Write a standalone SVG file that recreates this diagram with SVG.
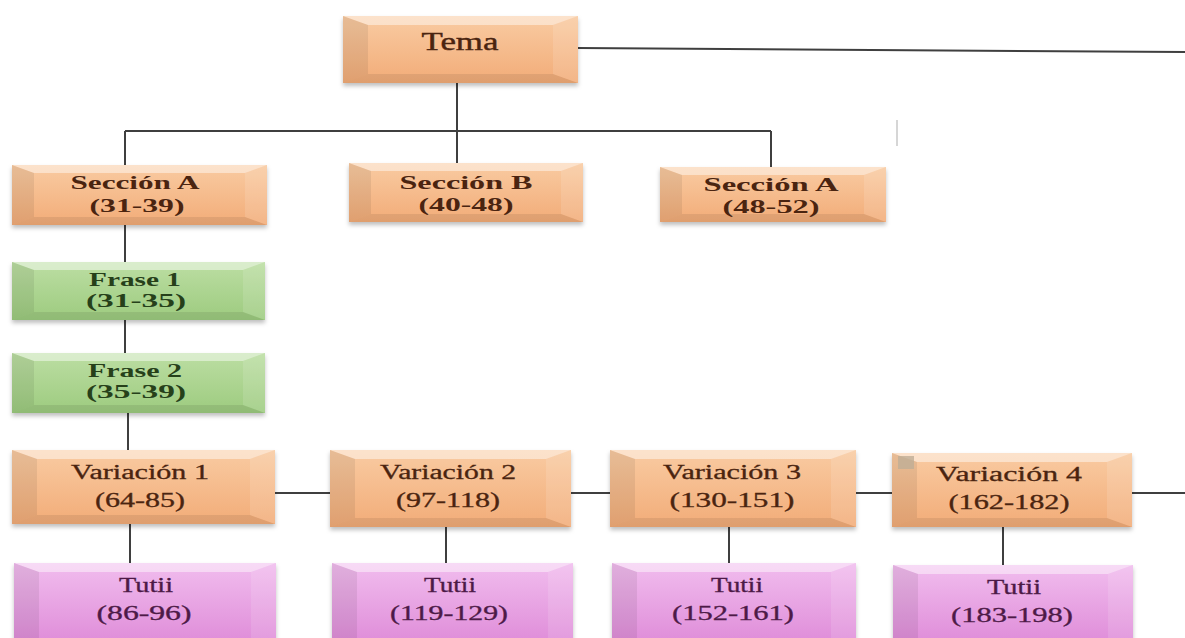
<svg xmlns="http://www.w3.org/2000/svg" width="1185" height="638" viewBox="0 0 1185 638">
<defs>
<linearGradient id="gO" x1="0" y1="0" x2="0" y2="1"><stop offset="0" stop-color="#F9CBA2"/><stop offset="1" stop-color="#F2AC78"/></linearGradient>
<linearGradient id="gG" x1="0" y1="0" x2="0" y2="1"><stop offset="0" stop-color="#BCDEA3"/><stop offset="1" stop-color="#9DCB7F"/></linearGradient>
<linearGradient id="gP" x1="0" y1="0" x2="0" y2="1"><stop offset="0" stop-color="#F1BDEE"/><stop offset="1" stop-color="#E08FDA"/></linearGradient>
<filter id="sh" x="-5%" y="-10%" width="110%" height="130%"><feDropShadow dx="0" dy="3" stdDeviation="2" flood-color="#000" flood-opacity="0.25"/></filter>
</defs>
<style>
.o{fill:url(#gO);filter:url(#sh)}
.g{fill:url(#gG);filter:url(#sh)}
.p{fill:url(#gP);filter:url(#sh)}
.bt{fill:#fff;opacity:0.45}
.bb{fill:#000;opacity:0.08}
.bl{fill:#000;opacity:0.07}
.br{fill:#fff;opacity:0.12}
.c{stroke:#3f3f3f;stroke-width:2;fill:none}
text{font-family:"Liberation Serif","Times New Roman",serif;text-anchor:middle}
.to{fill:#4a2410;stroke:#4a2410}
.tg{fill:#26401a;stroke:#26401a}
.tp{fill:#4d1a47;stroke:#4d1a47}
.b{font-weight:bold;font-size:18px;stroke-width:0}
.r{font-size:20px;stroke-width:0.3}
.t{font-size:26px;stroke-width:0.4}
</style>
<rect width="1185" height="638" fill="#fff"/>
<g id="connectors">
<path class="c" d="M578 48 L1185 52"/>
<path class="c" d="M457 83 V131 M125 131 H771 M125 131 V165 M457 131 V163 M771 131 V167"/>
<path class="c" d="M125 225 V262 M125 320 V353 M128 413 V450"/>
<path class="c" d="M275 493 H330 M571 493 H610 M856 493 H892 M1132 493 H1185"/>
<path class="c" d="M130 524 V563 M446 527 V563 M729 527 V563 M1003 527 V565"/>
<path d="M897 120 V146" stroke="#c8c8c8" stroke-width="1.5"/>
</g>
<g id="tema">
<rect class="o" x="343" y="16" width="235" height="67"/>
<polygon class="bt" points="343,16 578,16 553,25 368,25"/>
<polygon class="bb" points="343,83 578,83 553,74 368,74"/>
<polygon class="bl" points="343,16 368,25 368,74 343,83"/>
<polygon class="br" points="578,16 553,25 553,74 578,83"/>
<text class="to t" x="460" y="50" textLength="77" lengthAdjust="spacingAndGlyphs">Tema</text>
</g>
<g id="seccionA1">
<rect class="o" x="12" y="165" width="255" height="60"/>
<polygon class="bt" points="12,165 267,165 245,173 34,173"/>
<polygon class="bb" points="12,225 267,225 245,217 34,217"/>
<polygon class="bl" points="12,165 34,173 34,217 12,225"/>
<polygon class="br" points="267,165 245,173 245,217 267,225"/>
<text class="to b" x="135" y="189" textLength="129" lengthAdjust="spacingAndGlyphs">Sección A</text>
<text class="to b" x="137" y="212" textLength="95" lengthAdjust="spacingAndGlyphs">(31-39)</text>
</g>
<g id="seccionB">
<rect class="o" x="349" y="163" width="234" height="59"/>
<polygon class="bt" points="349,163 583,163 561,171 371,171"/>
<polygon class="bb" points="349,222 583,222 561,214 371,214"/>
<polygon class="bl" points="349,163 371,171 371,214 349,222"/>
<polygon class="br" points="583,163 561,171 561,214 583,222"/>
<text class="to b" x="466" y="189" textLength="133" lengthAdjust="spacingAndGlyphs">Sección B</text>
<text class="to b" x="466" y="211" textLength="95" lengthAdjust="spacingAndGlyphs">(40-48)</text>
</g>
<g id="seccionA2">
<rect class="o" x="660" y="167" width="226" height="55"/>
<polygon class="bt" points="660,167 886,167 864,175 682,175"/>
<polygon class="bb" points="660,222 886,222 864,214 682,214"/>
<polygon class="bl" points="660,167 682,175 682,214 660,222"/>
<polygon class="br" points="886,167 864,175 864,214 886,222"/>
<text class="to b" x="771" y="191" textLength="135" lengthAdjust="spacingAndGlyphs">Sección A</text>
<text class="to b" x="771" y="213" textLength="97" lengthAdjust="spacingAndGlyphs">(48-52)</text>
</g>
<g id="frase1">
<rect class="g" x="12" y="262" width="253" height="58"/>
<polygon class="bt" points="12,262 265,262 243,270 34,270"/>
<polygon class="bb" points="12,320 265,320 243,312 34,312"/>
<polygon class="bl" points="12,262 34,270 34,312 12,320"/>
<polygon class="br" points="265,262 243,270 243,312 265,320"/>
<text class="tg b" x="135" y="286" textLength="92" lengthAdjust="spacingAndGlyphs">Frase 1</text>
<text class="tg b" x="136" y="307" textLength="100" lengthAdjust="spacingAndGlyphs">(31-35)</text>
</g>
<g id="frase2">
<rect class="g" x="12" y="353" width="253" height="60"/>
<polygon class="bt" points="12,353 265,353 243,361 34,361"/>
<polygon class="bb" points="12,413 265,413 243,405 34,405"/>
<polygon class="bl" points="12,353 34,361 34,405 12,413"/>
<polygon class="br" points="265,353 243,361 243,405 265,413"/>
<text class="tg b" x="135" y="377" textLength="94" lengthAdjust="spacingAndGlyphs">Frase 2</text>
<text class="tg b" x="136" y="398" textLength="100" lengthAdjust="spacingAndGlyphs">(35-39)</text>
</g>
<g id="variacion1">
<rect class="o" x="12" y="450" width="263" height="74"/>
<polygon class="bt" points="12,450 275,450 250,459 37,459"/>
<polygon class="bb" points="12,524 275,524 250,515 37,515"/>
<polygon class="bl" points="12,450 37,459 37,515 12,524"/>
<polygon class="br" points="275,450 250,459 250,515 275,524"/>
<text class="to r" x="140" y="479" textLength="138" lengthAdjust="spacingAndGlyphs">Variación 1</text>
<text class="to r" x="140" y="507" textLength="90" lengthAdjust="spacingAndGlyphs">(64-85)</text>
</g>
<g id="variacion2">
<rect class="o" x="330" y="450" width="241" height="77"/>
<polygon class="bt" points="330,450 571,450 546,459 355,459"/>
<polygon class="bb" points="330,527 571,527 546,518 355,518"/>
<polygon class="bl" points="330,450 355,459 355,518 330,527"/>
<polygon class="br" points="571,450 546,459 546,518 571,527"/>
<text class="to r" x="448" y="479" textLength="136" lengthAdjust="spacingAndGlyphs">Variación 2</text>
<text class="to r" x="448" y="507" textLength="104" lengthAdjust="spacingAndGlyphs">(97-118)</text>
</g>
<g id="variacion3">
<rect class="o" x="610" y="450" width="246" height="77"/>
<polygon class="bt" points="610,450 856,450 831,459 635,459"/>
<polygon class="bb" points="610,527 856,527 831,518 635,518"/>
<polygon class="bl" points="610,450 635,459 635,518 610,527"/>
<polygon class="br" points="856,450 831,459 831,518 856,527"/>
<text class="to r" x="732" y="479" textLength="138" lengthAdjust="spacingAndGlyphs">Variación 3</text>
<text class="to r" x="732" y="507" textLength="125" lengthAdjust="spacingAndGlyphs">(130-151)</text>
</g>
<g id="variacion4">
<rect class="o" x="892" y="453" width="240" height="74"/>
<polygon class="bt" points="892,453 1132,453 1107,462 917,462"/>
<polygon class="bb" points="892,527 1132,527 1107,518 917,518"/>
<polygon class="bl" points="892,453 917,462 917,518 892,527"/>
<polygon class="br" points="1132,453 1107,462 1107,518 1132,527"/>
<polygon points="898,456 914,456 914,469 898,469" fill="#bfae96" opacity="0.8"/>
<text class="to r" x="1009" y="481" textLength="146" lengthAdjust="spacingAndGlyphs">Variación  4</text>
<text class="to r" x="1009" y="509" textLength="121" lengthAdjust="spacingAndGlyphs">(162-182)</text>
</g>
<g id="tutii1">
<rect class="p" x="14" y="563" width="262" height="76"/>
<polygon class="bt" points="14,563 276,563 251,572 39,572"/>
<polygon class="bl" points="14,563 39,572 39,639 14,639"/>
<polygon class="br" points="276,563 251,572 251,639 276,639"/>
<text class="tp r" x="146" y="592" textLength="54" lengthAdjust="spacingAndGlyphs">Tutii</text>
<text class="tp r" x="144" y="620" textLength="95" lengthAdjust="spacingAndGlyphs">(86-96)</text>
</g>
<g id="tutii2">
<rect class="p" x="332" y="563" width="241" height="76"/>
<polygon class="bt" points="332,563 573,563 548,572 357,572"/>
<polygon class="bl" points="332,563 357,572 357,639 332,639"/>
<polygon class="br" points="573,563 548,572 548,639 573,639"/>
<text class="tp r" x="450" y="592" textLength="52" lengthAdjust="spacingAndGlyphs">Tutii</text>
<text class="tp r" x="449" y="620" textLength="118" lengthAdjust="spacingAndGlyphs">(119-129)</text>
</g>
<g id="tutii3">
<rect class="p" x="612" y="563" width="244" height="76"/>
<polygon class="bt" points="612,563 856,563 831,572 637,572"/>
<polygon class="bl" points="612,563 637,572 637,639 612,639"/>
<polygon class="br" points="856,563 831,572 831,639 856,639"/>
<text class="tp r" x="737" y="592" textLength="52" lengthAdjust="spacingAndGlyphs">Tutii</text>
<text class="tp r" x="733" y="620" textLength="122" lengthAdjust="spacingAndGlyphs">(152-161)</text>
</g>
<g id="tutii4">
<rect class="p" x="893" y="565" width="240" height="74"/>
<polygon class="bt" points="893,565 1133,565 1108,574 918,574"/>
<polygon class="bl" points="893,565 918,574 918,639 893,639"/>
<polygon class="br" points="1133,565 1108,574 1108,639 1133,639"/>
<text class="tp r" x="1014" y="594" textLength="54" lengthAdjust="spacingAndGlyphs">Tutii</text>
<text class="tp r" x="1012" y="622" textLength="122" lengthAdjust="spacingAndGlyphs">(183-198)</text>
</g>
</svg>
